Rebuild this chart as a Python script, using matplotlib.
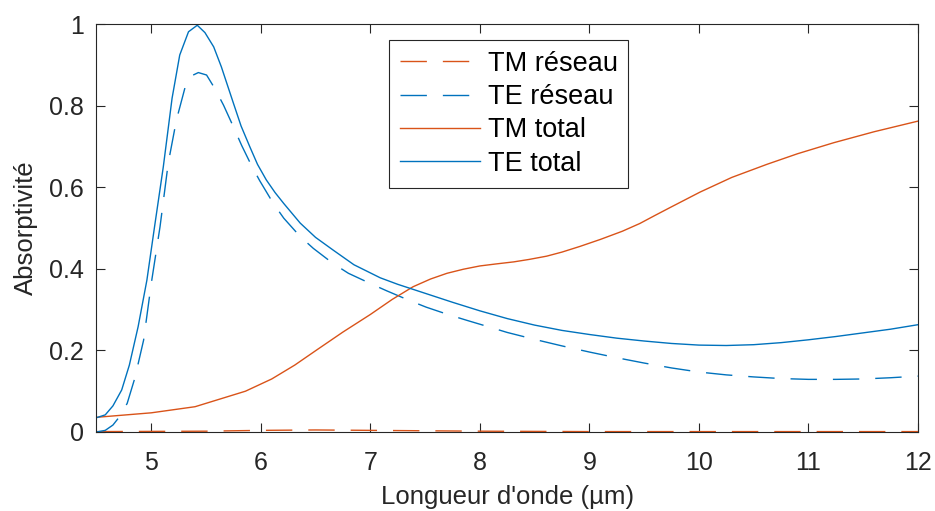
import matplotlib
matplotlib.use("Agg")
import matplotlib.pyplot as plt
from matplotlib.ticker import FormatStrFormatter

plt.rcParams['font.family'] = ['Liberation Sans', 'DejaVu Sans']

# TE total (blue solid)
x_te_tot = [4.5, 4.58, 4.65, 4.73, 4.8, 4.88, 4.96, 5.03, 5.11, 5.19, 5.26, 5.34, 5.42,
            5.49, 5.57, 5.64, 5.75, 5.82, 5.9, 5.97, 6.05, 6.13, 6.21, 6.36, 6.5, 6.66,
            6.85, 7.09, 7.25, 7.5, 7.75, 8.0, 8.25, 8.5, 8.75, 9.0, 9.25, 9.5, 9.75, 10.0,
            10.25, 10.5, 10.75, 11.0, 11.25, 11.5, 11.75, 12.0]
y_te_tot = [0.035, 0.042, 0.064, 0.103, 0.164, 0.258, 0.372, 0.503, 0.650, 0.818, 0.924,
            0.981, 0.997, 0.979, 0.944, 0.895, 0.806, 0.75, 0.699, 0.656, 0.618, 0.587,
            0.56, 0.512, 0.477, 0.446, 0.41, 0.378, 0.362, 0.34, 0.318, 0.297, 0.278,
            0.262, 0.249, 0.239, 0.23, 0.223, 0.217, 0.213, 0.212, 0.214, 0.219, 0.226,
            0.234, 0.243, 0.252, 0.263]

# TE réseau (blue dashed)
x_te_res = [4.5, 4.58, 4.65, 4.7, 4.78, 4.85, 4.93, 5.0, 5.08, 5.155, 5.23, 5.31, 5.36,
            5.43, 5.505, 5.58, 5.66, 5.75, 5.826, 5.917, 5.99, 6.115, 6.21, 6.36, 6.48,
            6.66, 6.8, 7.0, 7.15, 7.36, 7.51, 7.72, 7.89, 8.09, 8.25, 8.5, 8.75, 9.0, 9.25,
            9.5, 9.75, 10.0, 10.25, 10.5, 10.75, 11.0, 11.25, 11.5, 11.75, 12.0]
y_te_res = [0.0, 0.004, 0.017, 0.034, 0.07, 0.132, 0.225, 0.364, 0.503, 0.659, 0.765,
            0.846, 0.872, 0.881, 0.875, 0.842, 0.801, 0.748, 0.702, 0.652, 0.616, 0.56,
            0.524, 0.479, 0.45, 0.413, 0.389, 0.364, 0.346, 0.322, 0.306, 0.287, 0.273,
            0.257, 0.244, 0.227, 0.211, 0.196, 0.182, 0.169, 0.157, 0.147, 0.14, 0.135,
            0.131, 0.129, 0.129, 0.130, 0.133, 0.137]

# TM total (orange solid)
x_tm_tot = [4.5, 5.0, 5.4, 5.86, 6.1, 6.31, 6.51, 6.75, 7.0, 7.2, 7.39, 7.55, 7.7, 7.85,
            8.0, 8.15, 8.31, 8.45, 8.61, 8.75, 8.915, 9.1, 9.3, 9.46, 9.6, 9.75, 10.01,
            10.3, 10.62, 10.9, 11.23, 11.6, 12.0]
y_tm_tot = [0.036, 0.047, 0.062, 0.1, 0.13, 0.164, 0.201, 0.245, 0.288, 0.325, 0.356,
            0.375, 0.389, 0.399, 0.407, 0.412, 0.417, 0.423, 0.431, 0.441, 0.455, 0.472,
            0.492, 0.511, 0.531, 0.552, 0.588, 0.624, 0.656, 0.682, 0.709, 0.736, 0.762]

# TM réseau (orange dashed)
x_tm_res = [4.5, 5.5, 6.0, 6.5, 7.0, 8.0, 9.0, 12.0]
y_tm_res = [0.001, 0.002, 0.004, 0.005, 0.004, 0.002, 0.001, 0.001]

blue = '#0072BD'
orange = '#D95319'
dash = (19, 11.5)

fig = plt.figure(figsize=(9.35, 5.11), dpi=100)
ax = fig.add_axes([0.1032, 0.1546, 0.8786, 0.7984])

ax.plot(x_tm_res, y_tm_res, color=orange, lw=1.0, dashes=dash, label='TM réseau')
ax.plot(x_te_res, y_te_res, color=blue, lw=1.0, dashes=dash, label='TE réseau')
ax.plot(x_tm_tot, y_tm_tot, color=orange, lw=1.0, label='TM total')
ax.plot(x_te_tot, y_te_tot, color=blue, lw=1.0, label='TE total')

ax.set_xlim(4.5, 12)
ax.set_ylim(0, 1)
ax.set_xticks([5, 6, 7, 8, 9, 10, 11, 12])
ax.set_yticks([0, 0.2, 0.4, 0.6, 0.8, 1])
ax.yaxis.set_major_formatter(FormatStrFormatter('%g'))
ax.tick_params(direction='in', length=6.5, width=0.8, top=True, right=True,
               labelsize=18, colors='#262626')
ax.tick_params(axis='x', pad=14)
ax.tick_params(axis='y', pad=9)
for s in ax.spines.values():
    s.set_color('#262626')
    s.set_linewidth(0.8)

ax.set_xlabel("Longueur d'onde (µm)", fontsize=18.5, color='#262626', labelpad=7)
ax.set_ylabel("Absorptivité", fontsize=18.5, color='#262626', labelpad=8)

leg = ax.legend(loc='upper left', bbox_to_anchor=(0.356, 0.961), borderaxespad=0,
                fontsize=19.5, handlelength=2.96, handletextpad=0.28, labelspacing=0.27,
                borderpad=0.4, fancybox=False, framealpha=1, edgecolor='#262626')
leg.get_frame().set_linewidth(0.8)

fig.savefig('out.png', dpi=100)
